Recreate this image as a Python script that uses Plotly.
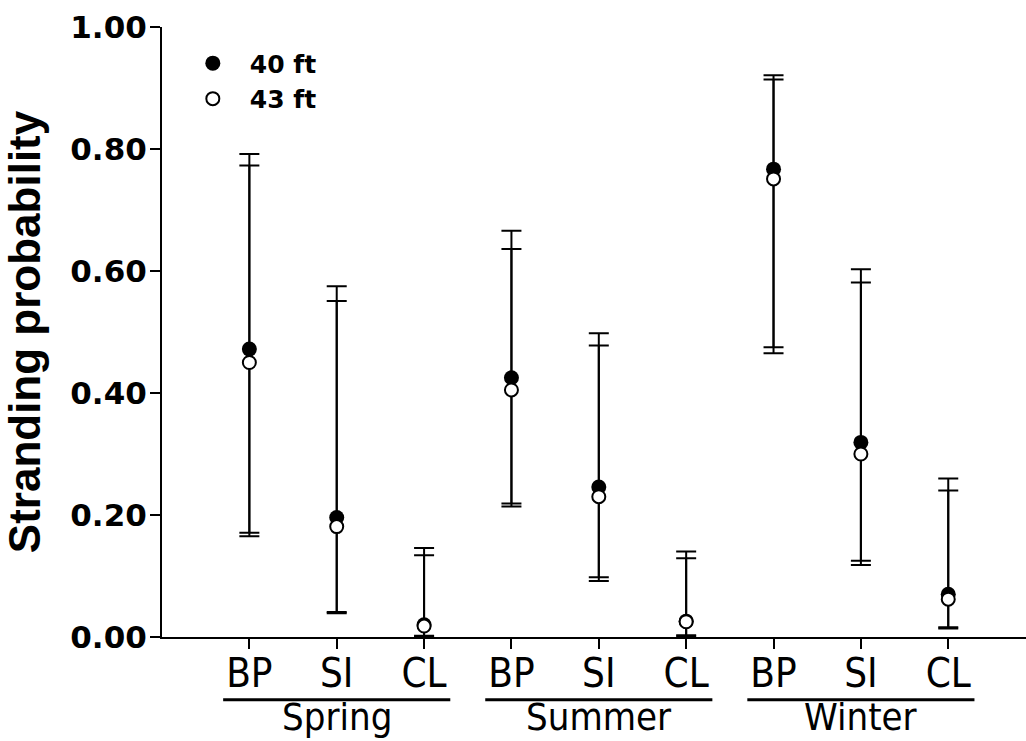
import plotly.graph_objects as go

# ---------------- data ----------------
seasons = ["Spring", "Summer", "Winter"]
sites = ["BP", "SI", "CL", "BP", "SI", "CL", "BP", "SI", "CL"]
x_pos = [1, 2, 3, 4, 5, 6, 7, 8, 9]
season_centers = [2, 5, 8]

p40 = [0.472, 0.196, 0.020, 0.425, 0.246, 0.026, 0.767, 0.319, 0.070]
upper40 = [0.792, 0.575, 0.146, 0.666, 0.498, 0.140, 0.921, 0.603, 0.260]
lower40 = [0.171, 0.041, 0.002, 0.219, 0.098, 0.003, 0.475, 0.125, 0.016]

p43 = [0.450, 0.181, 0.018, 0.405, 0.230, 0.025, 0.751, 0.300, 0.062]
upper43 = [0.773, 0.551, 0.134, 0.636, 0.478, 0.129, 0.914, 0.581, 0.240]
lower43 = [0.165, 0.039, 0.001, 0.214, 0.092, 0.001, 0.465, 0.118, 0.014]

y_ticks = [0.0, 0.2, 0.4, 0.6, 0.8, 1.0]
y_ticktext = ["0.00", "0.20", "0.40", "0.60", "0.80", "1.00"]

# ---------------- figure ----------------
fig = go.Figure()

fig.add_trace(go.Scatter(
    x=x_pos, y=p40, mode="markers", name="40 ft",
    marker=dict(symbol="circle", size=15, color="black", line=dict(width=0)),
    error_y=dict(type="data", symmetric=False,
                 array=[u - p for u, p in zip(upper40, p40)],
                 arrayminus=[p - l for p, l in zip(p40, lower40)],
                 color="black", thickness=2, width=10),
))
fig.add_trace(go.Scatter(
    x=x_pos, y=p43, mode="markers", name="43 ft",
    marker=dict(symbol="circle", size=13, color="white", line=dict(width=2, color="black")),
    error_y=dict(type="data", symmetric=False,
                 array=[u - p for u, p in zip(upper43, p43)],
                 arrayminus=[p - l for p, l in zip(p43, lower43)],
                 color="black", thickness=2, width=10),
))

narrow = "Liberation Sans Narrow, DejaVu Sans Condensed, Arial Narrow, sans-serif"

# season underlines and labels
for c, s in zip(season_centers, seasons):
    fig.add_shape(type="line", xref="x", yref="paper",
                  x0=c - 1.3, x1=c + 1.3, y0=-0.103, y1=-0.103,
                  line=dict(color="black", width=3))
    fig.add_annotation(x=c, y=-0.131, xref="x", yref="paper", text=s,
                       showarrow=False, yanchor="middle",
                       font=dict(family=narrow, size=38, color="black"))

fig.update_layout(
    width=1026, height=741,
    margin=dict(l=162, r=0, t=27, b=104),
    paper_bgcolor="white", plot_bgcolor="white",
    showlegend=True,
    legend=dict(x=0.016, y=0.978, xanchor="left", yanchor="top",
                bgcolor="rgba(0,0,0,0)", itemwidth=64,
                font=dict(family="DejaVu Sans", size=25, color="black", weight="bold")),
    xaxis=dict(range=[0, 9.89], tickmode="array", tickvals=x_pos, ticktext=sites,
               automargin=False,
               showgrid=False, zeroline=False, showline=True, linecolor="black",
               linewidth=2, ticks="outside", ticklen=10, tickwidth=2, tickcolor="black",
               ticklabelstandoff=-10,
               tickfont=dict(family=narrow, size=40, color="black")),
    yaxis=dict(range=[0, 1.0], tickmode="array", tickvals=y_ticks, ticktext=y_ticktext,
               automargin=False,
               showgrid=False, zeroline=False, showline=True, linecolor="black",
               linewidth=2, ticks="outside", ticklen=10, tickwidth=2, tickcolor="black",
               ticklabelstandoff=-3,
               tickfont=dict(family="DejaVu Sans", size=31, color="black", weight="bold"),
               title=dict(text="Stranding probability", standoff=22,
                          font=dict(family="Liberation Sans, Arial, sans-serif", size=44,
                                    color="black", weight="bold"))),
)

fig.write_html("out.html",
               config={"displayModeBar": False},
               post_script="document.body.style.margin='0px';document.body.style.padding='0px';")
